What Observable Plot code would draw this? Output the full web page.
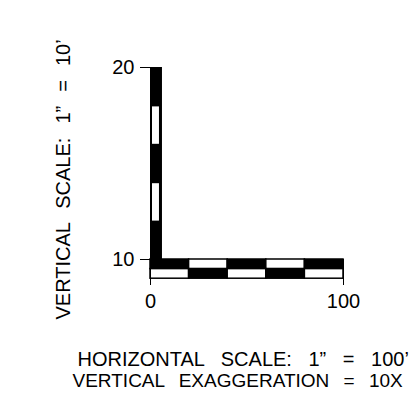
<!DOCTYPE html>
<html>
<head>
<meta charset="utf-8">
<script src="https://cdn.jsdelivr.net/npm/d3@7"></script>
<script src="https://cdn.jsdelivr.net/npm/@observablehq/plot@0.6"></script>
<style>
  html, body { margin: 0; padding: 0; overflow: hidden; background: white; }
</style>
</head>
<body>
<div id="chart"></div>
<script>
// Scale-bar values
const xTicks = [0, 100];            // horizontal scale tick labels (feet)
const yTicks = [10, 20];            // vertical scale tick labels (feet)
const hBreaks = [0, 20, 40, 60, 80, 100];   // horizontal bar divisions
const vWhite = [[12, 14], [16, 18]];        // white divisions inside the vertical bar
const vRange = [[10, 20]];                  // extent of the vertical bar

const verticalLabel = "VERTICAL SCALE: 1\u201D = 10\u2019";
const captionLines = ["HORIZONTAL SCALE: 1\u201D = 100\u2019", "VERTICAL EXAGGERATION = 10X"];

const cells = d3.pairs(hBreaks).map(([a, b], i) => ({a, b, i}));

const plot = Plot.plot({
  width: 415,
  height: 416,
  marginLeft: 150,
  marginRight: 72,
  marginTop: 67,
  marginBottom: 157,
  x: {domain: [0, 100]},
  y: {domain: [10, 20]},
  style: {fontFamily: "'Liberation Sans', Arial, sans-serif", fontSize: "20px", color: "black", background: "white"},
  marks: [
    // vertical bar
    Plot.rect(vRange, {x1: 0, x2: 6.2, y1: d => d[0], y2: d => d[1], fill: "black"}),
    Plot.rect(vWhite, {x1: 0, x2: 6.2, y1: d => d[0], y2: d => d[1], fill: "white", insetLeft: 2, insetRight: 3, insetTop: 1}),
    // horizontal bar, two checkered rows
    Plot.rect(cells, {x1: "a", x2: "b", y1: 9.5, y2: 10, fill: d => d.i % 2 === 0 ? "black" : "white", stroke: "black", strokeWidth: 1.5}),
    Plot.rect(cells, {x1: "a", x2: "b", y1: 9.0, y2: 9.5, fill: d => d.i % 2 === 0 ? "white" : "black", stroke: "black", strokeWidth: 1.5}),
    // axes
    Plot.axisY(yTicks, {anchor: "left", tickSize: 10, tickPadding: 6, fontSize: 20, label: null}),
    Plot.axisX(xTicks, {anchor: "bottom", tickSize: 26, tickPadding: 8, fontSize: 20, label: null}),
    // labels
    Plot.text([verticalLabel], {x: -45, y: 14.17, rotate: -90, fontSize: 20, fill: "black"}),
    Plot.text([captionLines[0]], {x: -37.8, y: 4.77, textAnchor: "start", fontSize: 20, fill: "black"}),
    Plot.text([captionLines[1]], {x: -40.4, y: 3.70, textAnchor: "start", fontSize: 19, fill: "black"})
  ]
});
const spacing = new Map([[verticalLabel, "8.5px"], [captionLines[0], "11px"], [captionLines[1], "9px"]]);
d3.select(plot).selectAll("text").each(function() {
  const s = spacing.get(this.textContent);
  if (s) this.style.wordSpacing = s;
});
document.getElementById("chart").appendChild(plot);
</script>
</body>
</html>
